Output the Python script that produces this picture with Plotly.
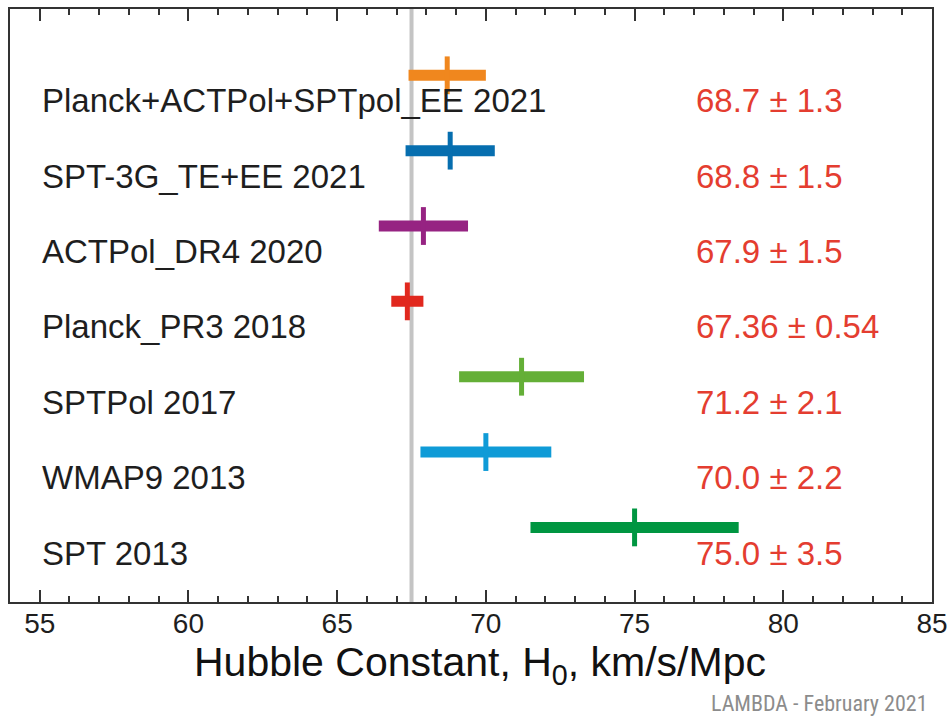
import plotly.graph_objects as go

# ---- data (top to bottom) ----
labels = ["Planck+ACTPol+SPTpol_EE 2021", "SPT-3G_TE+EE 2021", "ACTPol_DR4 2020",
          "Planck_PR3 2018", "SPTPol 2017", "WMAP9 2013", "SPT 2013"]
h0 = [68.7, 68.8, 67.9, 67.36, 71.2, 70.0, 75.0]
err = [1.3, 1.5, 1.5, 0.54, 2.1, 2.2, 3.5]
decimals = [1, 1, 1, 2, 1, 1, 1]
colors = ["#F0871E", "#066EAF", "#962382", "#E1281E", "#64AF37", "#0F9BD7", "#009641"]
planck_ref = 67.5
x_ticks = [55, 60, 65, 70, 75, 80, 85]
x_title = "Hubble Constant, H<sub>0</sub>, km/s/Mpc"
footer = "LAMBDA - February 2021"

n = len(labels)
rows = [n - i for i in range(n)]
lo = [v - e for v, e in zip(h0, err)]
span = [2 * e for e in err]
value_text = [f"{v:.{d}f} ± {e:.{d}f}" for v, e, d in zip(h0, err, decimals)]

FONT = "Liberation Sans, Arial, Helvetica, sans-serif"

fig = go.Figure()
fig.add_trace(go.Bar(
    orientation="h", y=rows, x=span, base=lo, width=0.146,
    marker=dict(color=colors, line=dict(width=0)), hoverinfo="skip", showlegend=False,
))
fig.add_trace(go.Scatter(
    x=h0, y=rows, mode="markers",
    marker=dict(symbol="line-ns", size=27, line=dict(width=5, color=colors)),
    hoverinfo="skip", showlegend=False,
))

fig.add_shape(type="line", xref="x", yref="paper", x0=planck_ref, x1=planck_ref, y0=0, y1=1,
              line=dict(color="#C4C4C4", width=4), layer="below")

for r, lab, vt in zip(rows, labels, value_text):
    fig.add_annotation(x=55, y=r - 0.34, xref="x", yref="y", text=lab, showarrow=False,
                       xanchor="left", yanchor="middle",
                       font=dict(family=FONT, size=33, color="#1E1E1E"))
    fig.add_annotation(x=77, y=r - 0.34, xref="x", yref="y", text=vt, showarrow=False,
                       xanchor="left", yanchor="middle",
                       font=dict(family=FONT, size=33, color="#E43D30"))

fig.add_annotation(x=0.51, y=-0.106, xref="paper", yref="paper", text=x_title, showarrow=False,
                   xanchor="center", yanchor="middle",
                   font=dict(family=FONT, size=41, color="#111111"))
fig.add_annotation(x=0.998, y=-0.172, xref="paper", yref="paper", text=footer, showarrow=False,
                   xanchor="right", yanchor="middle",
                   font=dict(family="Liberation Sans Narrow, Roboto Condensed, DejaVu Sans Condensed, Liberation Sans, sans-serif",
                             size=22, color="#8C8C8C"))

fig.update_layout(
    width=947, height=717,
    margin=dict(l=10, r=15, t=9, b=115, autoexpand=False),
    paper_bgcolor="white", plot_bgcolor="white",
    barmode="overlay", showlegend=False,
    xaxis=dict(
        range=[54, 85], tickvals=x_ticks, ticks="inside", ticklen=12, tickwidth=2,
        tickcolor="#333333", showline=True, linecolor="#333333", linewidth=2,
        mirror="allticks", showgrid=False, zeroline=False, ticklabeloverflow="allow",
        automargin=False,
        tickfont=dict(family=FONT, size=28, color="#1E1E1E"), ticklabelstandoff=-5,
        minor=dict(dtick=1, ticks="inside", ticklen=6, tickwidth=2, tickcolor="#333333", showgrid=False),
    ),
    yaxis=dict(
        range=[0.01, 7.88], showticklabels=False, ticks="", showline=True, automargin=False,
        linecolor="#333333", linewidth=2, mirror=True, showgrid=False, zeroline=False,
    ),
)

fig.write_html("out.html", config={"displayModeBar": False},
               post_script="document.body.style.margin='0';document.body.style.overflow='hidden';")
